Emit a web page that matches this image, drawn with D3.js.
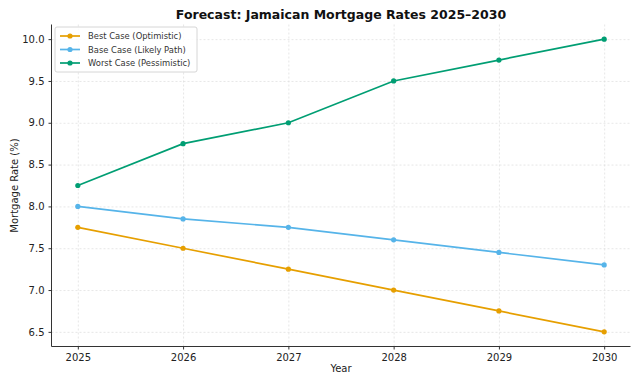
<!DOCTYPE html>
<html>
<head>
<meta charset="utf-8">
<script src="https://cdn.jsdelivr.net/npm/d3@7"></script>
<style>
body { margin: 0; background: #fff; }
svg { font-family: "DejaVu Sans", sans-serif; }
.grid line { stroke: #dcdcdc; stroke-dasharray: 2,2; stroke-width: 0.7; }
.grid path { display: none; }
</style>
</head>
<body>
<svg id="chart" width="640" height="384"></svg>
<script>
var years = [2025, 2026, 2027, 2028, 2029, 2030];
var bestCase = [7.75, 7.5, 7.25, 7.0, 6.75, 6.5];
var baseCase = [8.0, 7.85, 7.75, 7.6, 7.45, 7.3];
var worstCase = [8.25, 8.75, 9.0, 9.5, 9.75, 10.0];
var yTicks = [6.5, 7.0, 7.5, 8.0, 8.5, 9.0, 9.5, 10.0];

var series = [
  {name: "Best Case (Optimistic)", values: bestCase, color: "#E69F00"},
  {name: "Base Case (Likely Path)", values: baseCase, color: "#56B4E9"},
  {name: "Worst Case (Pessimistic)", values: worstCase, color: "#009E73"}
];

var plotL = 51.5, plotR = 630.5, plotT = 24.5, plotB = 346.5;

function draw() {
  var svg = d3.select("svg");

  var x = d3.scaleLinear().domain([2024.75, 2030.25]).range([plotL, plotR]),
      y = d3.scaleLinear().domain([6.325, 10.175]).range([plotB, plotT]);

  // grid
  svg.append("g").attr("class", "grid")
    .attr("transform", "translate(0," + plotB + ")")
    .call(d3.axisBottom(x).tickValues(years).tickSize(-(plotB - plotT)).tickFormat(""));
  svg.append("g").attr("class", "grid")
    .attr("transform", "translate(" + plotL + ",0)")
    .call(d3.axisLeft(y).tickValues(yTicks).tickSize(-(plotR - plotL)).tickFormat(""));

  // axes
  var xa = svg.append("g")
    .attr("transform", "translate(0," + plotB + ")")
    .call(d3.axisBottom(x).tickValues(years).tickSize(3).tickSizeOuter(0).tickPadding(4).tickFormat(d3.format("d")));
  var ya = svg.append("g")
    .attr("transform", "translate(" + plotL + ",0)")
    .call(d3.axisLeft(y).tickValues(yTicks).tickSize(3).tickSizeOuter(0).tickPadding(4).tickFormat(d3.format(".1f")));
  [xa, ya].forEach(function(a) {
    a.selectAll("path").attr("stroke", "#333").attr("stroke-width", 1);
    a.selectAll("line").attr("stroke", "#333");
    a.selectAll("text").attr("font-size", 10).attr("fill", "#222")
      .attr("font-family", "DejaVu Sans");
  });
  xa.select(".domain").attr("d", "M" + plotL + ",0H" + plotR);
  ya.select(".domain").attr("d", "M0," + plotB + "V" + plotT);

  var line = d3.line()
    .x(function(d, i) { return x(years[i]); })
    .y(function(d) { return y(d); });

  series.forEach(function(s) {
    svg.append("path")
      .attr("d", line(s.values))
      .attr("fill", "none")
      .attr("stroke", s.color)
      .attr("stroke-width", 1.7);
    s.values.forEach(function(v, i) {
      svg.append("circle")
        .attr("cx", x(years[i])).attr("cy", y(v)).attr("r", 2.6)
        .attr("fill", s.color);
    });
  });

  // labels
  svg.append("text").attr("x", 341).attr("y", 19).attr("text-anchor", "middle")
    .attr("font-size", 12.5).attr("font-weight", "bold").attr("fill", "#111")
    .text("Forecast: Jamaican Mortgage Rates 2025\u20132030");
  svg.append("text").attr("x", 341).attr("y", 372).attr("text-anchor", "middle")
    .attr("font-size", 10).attr("fill", "#222").text("Year");
  svg.append("text").attr("transform", "translate(18," + ((plotT + plotB) / 2) + ") rotate(-90)")
    .attr("text-anchor", "middle").attr("font-size", 10).attr("fill", "#222")
    .text("Mortgage Rate (%)");

  // legend
  var lg = svg.append("g").attr("transform", "translate(55,27)");
  lg.append("rect").attr("width", 142).attr("height", 45).attr("rx", 2)
    .attr("fill", "#fff").attr("fill-opacity", 0.85).attr("stroke", "#ccc").attr("stroke-width", 0.8);
  series.forEach(function(s, i) {
    var yy = 9 + i * 13.5;
    lg.append("line").attr("x1", 5).attr("x2", 25).attr("y1", yy).attr("y2", yy)
      .attr("stroke", s.color).attr("stroke-width", 1.7);
    lg.append("circle").attr("cx", 15).attr("cy", yy).attr("r", 2.6).attr("fill", s.color);
    lg.append("text").attr("x", 33).attr("y", yy + 3).attr("font-size", 8.4)
      .attr("fill", "#333").text(s.name);
  });
}

draw();
</script>
</body>
</html>
